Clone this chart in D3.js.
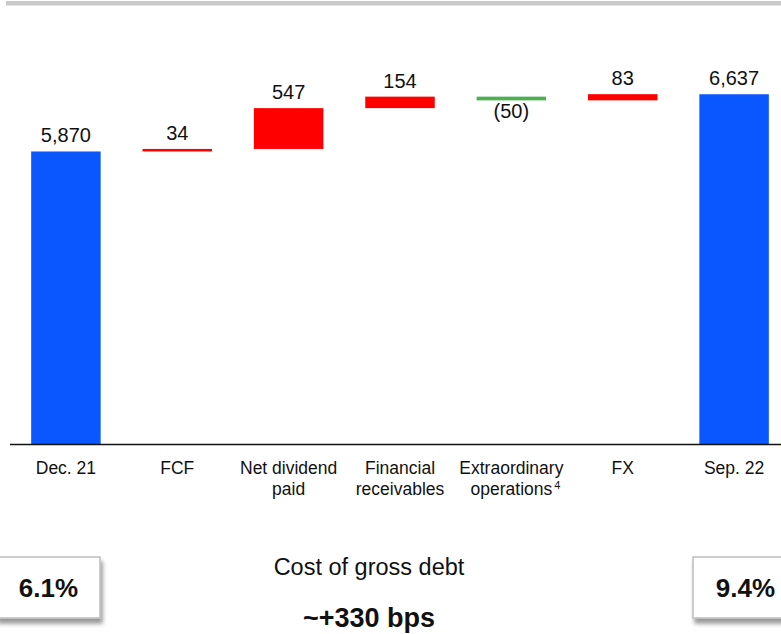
<!DOCTYPE html>
<html>
<head>
<meta charset="utf-8">
<script src="https://cdn.jsdelivr.net/npm/d3@7/dist/d3.min.js"></script>
<style>
  html, body { margin: 0; padding: 0; background: #fff; }
  svg { display: block; font-family: "Liberation Sans", Arial, sans-serif; }
</style>
</head>
<body>
<svg id="chart" width="781" height="634"></svg>
<script>
// Net debt bridge, Dec. 21 -> Sep. 22
const categories = ["Dec. 21", "FCF", "Net dividend paid", "Financial receivables", "Extraordinary operations", "FX", "Sep. 22"];
const categoryLines = [["Dec. 21"], ["FCF"], ["Net dividend", "paid"], ["Financial", "receivables"], ["Extraordinary", "operations"], ["FX"], ["Sep. 22"]];
const footnotes = [null, null, null, null, "4", null, null];
const values = [5870, 34, 547, 154, -50, 83, 6637];
const kinds = ["total", "delta", "delta", "delta", "delta", "delta", "total"];

// Cost of gross debt, start and end of period
const costLabel = "Cost of gross debt";
const costValues = [6.1, 9.4];
const costChange = "~+330 bps";

const W = 781, H = 634;
const svg = d3.select("#chart");

const colors = { total: "#0a57ff", up: "#ff0000", down: "#4caf50" };

// Build waterfall segments
let running = 0;
const segs = values.map((v, i) => {
  let y0, y1, type;
  if (kinds[i] === "total") {
    running = v;
    y0 = null; y1 = v; type = "total";
  } else {
    y0 = running; y1 = running + v; running = y1;
    type = v >= 0 ? "up" : "down";
  }
  return { cat: categories[i], lines: categoryLines[i], note: footnotes[i], v, y0, y1, type };
});

const x = d3.scaleBand().domain(categories).range([10, 790]).paddingInner(0.376).paddingOuter(0.19);
const y = d3.scaleLinear().domain([1950, 7900]).range([444, 0]);
const baseVal = y.domain()[0];

const fmt = v => v < 0 ? "(" + d3.format(",")(-v) + ")" : d3.format(",")(v);

// Header rule
svg.append("rect").attr("x", 6).attr("y", 1).attr("width", W - 6).attr("height", 4.5).attr("fill", "#c9c9c9");

// Bars
svg.append("g").selectAll("rect").data(segs).join("rect")
  .attr("x", d => x(d.cat))
  .attr("width", x.bandwidth())
  .attr("y", d => d.type === "total" ? y(d.y1) : y(Math.max(d.y0, d.y1)))
  .attr("height", d => d.type === "total" ? y(baseVal) - y(d.y1) : Math.abs(y(d.y0) - y(d.y1)))
  .attr("fill", d => colors[d.type]);

// Value labels
svg.append("g").selectAll("text").data(segs).join("text")
  .attr("x", d => x(d.cat) + x.bandwidth() / 2)
  .attr("y", d => {
    if (d.type === "down") return y(Math.min(d.y0, d.y1)) + 17.5;
    const top = d.type === "total" ? d.y1 : Math.max(d.y0, d.y1);
    return y(top) - 9;
  })
  .attr("text-anchor", "middle")
  .attr("font-size", 20)
  .attr("fill", "#111")
  .text(d => fmt(d.v));

// Baseline axis
const xAxis = d3.axisBottom(x).tickSize(0).tickFormat("");
const axisG = svg.append("g").attr("transform", `translate(0,${y(baseVal) + 0.5})`).call(xAxis);
axisG.select(".domain").attr("d", `M10,0H${W}`).attr("stroke", "#111").attr("stroke-width", 1.3);

// Category labels
const catG = svg.append("g").selectAll("g").data(segs).join("g")
  .attr("transform", d => `translate(${x(d.cat) + x.bandwidth() / 2},0)`);
catG.each(function (d) {
  const g = d3.select(this);
  d.lines.forEach((line, li) => {
    const t = g.append("text")
      .attr("x", 0).attr("y", 474 + li * 20.5)
      .attr("text-anchor", "middle")
      .attr("font-size", 17.5)
      .attr("fill", "#111")
      .text(line);
    if (d.note && li === d.lines.length - 1) {
      const w = t.node().getComputedTextLength();
      g.append("text")
        .attr("x", w / 2 + 2).attr("y", 474 + li * 20.5 - 6)
        .attr("font-size", 11)
        .attr("fill", "#111")
        .text(d.note);
    }
  });
});

// Cost of gross debt boxes
const defs = svg.append("defs");
const f = defs.append("filter").attr("id", "shadow").attr("x", "-20%").attr("y", "-20%").attr("width", "150%").attr("height", "160%");
f.append("feDropShadow").attr("dx", 2).attr("dy", 5).attr("stdDeviation", 2.2)
  .attr("flood-color", "#000").attr("flood-opacity", 0.4);

const boxes = [
  { x: -4, w: 104, v: costValues[0] },
  { x: 693, w: 104, v: costValues[1] }
];
const boxG = svg.append("g").selectAll("g").data(boxes).join("g");
boxG.append("rect")
  .attr("x", d => d.x).attr("y", 557).attr("width", d => d.w).attr("height", 61)
  .attr("fill", "#fff").attr("stroke", "#bdbdbd").attr("stroke-width", 1.5)
  .attr("filter", "url(#shadow)");
boxG.append("text")
  .attr("x", d => d.x + d.w / 2 + 0.5).attr("y", 597)
  .attr("text-anchor", "middle").attr("font-size", 26).attr("font-weight", "bold").attr("fill", "#111")
  .text(d => d3.format(".1f")(d.v) + "%");

svg.append("text").attr("x", 369).attr("y", 575).attr("text-anchor", "middle")
  .attr("font-size", 23.5).attr("fill", "#111").text(costLabel);
svg.append("text").attr("x", 369).attr("y", 627).attr("text-anchor", "middle")
  .attr("font-size", 27).attr("font-weight", "bold").attr("fill", "#111").text(costChange);
</script>
</body>
</html>
